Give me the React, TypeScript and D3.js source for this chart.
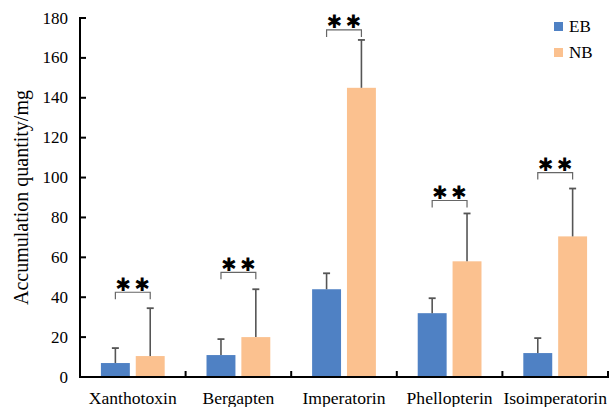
import React from "react";
import * as d3 from "d3";

const categories = ["Xanthotoxin", "Bergapten", "Imperatorin", "Phellopterin", "Isoimperatorin"];
const series = ["EB", "NB"];
const ebValues = [7, 11, 44, 32, 12];
const ebErrors = [7.5, 8, 8, 7.5, 7.5];
const nbValues = [10.5, 20, 145, 58, 70.5];
const nbErrors = [24, 24, 24, 24, 24];
const bracketLevels = [42.5, 52.5, 174, 88.5, 102.5];
const yTicks = [0, 20, 40, 60, 80, 100, 120, 140, 160, 180];

const colors: Record<string, string> = { EB: "#4f81c4", NB: "#fbc18f" };

const W = 609;
const H = 407;
const margin = { top: 18, right: 1, bottom: 30, left: 80 };
const serif = "Liberation Serif, DejaVu Serif, serif";

export default function App() {
  const x = d3
    .scaleBand<string>()
    .domain(categories)
    .range([margin.left, W - margin.right])
    .padding(0);
  const inner = d3
    .scaleBand<string>()
    .domain(series)
    .range([0, x.bandwidth()])
    .paddingInner(0.17)
    .paddingOuter(0.6);
  const y = d3.scaleLinear().domain([0, 180]).range([H - margin.bottom, margin.top]);

  const rows = categories.map((c, i) => ({
    c,
    bars: [
      { s: "EB", v: ebValues[i], e: ebErrors[i] },
      { s: "NB", v: nbValues[i], e: nbErrors[i] },
    ],
    bracket: bracketLevels[i],
  }));

  const y0 = y(0);
  const bw = inner.bandwidth();
  const tickTxt = { fontFamily: serif, fontSize: "17px" };
  const catTxt = { fontFamily: serif, fontSize: "17.6px" };

  return (
    <svg width={W} height={H} style={{ position: "absolute", left: 0, top: 0 }}>
      <rect width={W} height={H} fill="#fff" />
      {rows.map((r) => (
        <g key={r.c}>
          {r.bars.map((b) => {
            const bx = (x(r.c) as number) + (inner(b.s) as number);
            const cx = bx + bw / 2;
            return (
              <g key={b.s}>
                <rect x={bx} y={y(b.v)} width={bw} height={y0 - y(b.v)} fill={colors[b.s]} />
                <line x1={cx} x2={cx} y1={y(b.v)} y2={y(b.v + b.e)} stroke="#555" strokeWidth={1.6} />
                <line x1={cx - 3.5} x2={cx + 3.5} y1={y(b.v + b.e)} y2={y(b.v + b.e)} stroke="#555" strokeWidth={1.8} />
              </g>
            );
          })}
          {(() => {
            const xa = (x(r.c) as number) + (inner("EB") as number) + bw / 2;
            const xb = (x(r.c) as number) + (inner("NB") as number) + bw / 2;
            const by = y(r.bracket);
            const mid = (xa + xb) / 2;
            return (
              <g>
                <path
                  d={`M${xa},${by + 7}V${by}H${xb}V${by + 7}`}
                  fill="none"
                  stroke="#666"
                  strokeWidth={1.2}
                />
                {[-9.5, 9.5].map((dx) => (
                  <text
                    key={dx}
                    x={mid + dx}
                    y={by - 8}
                    textAnchor="middle"
                    dominantBaseline="central"
                    style={{ fontFamily: "DejaVu Sans, sans-serif", fontSize: "18.5px" }}
                    fill="#000"
                  >
                    ✱
                  </text>
                ))}
              </g>
            );
          })()}
        </g>
      ))}

      {/* axes */}
      <line x1={margin.left} x2={margin.left} y1={y(180) - 1} y2={y0 + 1} stroke="#000" strokeWidth={2} />
      <line x1={margin.left - 1} x2={W} y1={y0} y2={y0} stroke="#000" strokeWidth={2} />
      {yTicks.map((t) => (
        <g key={t}>
          <line x1={margin.left} x2={margin.left + 6} y1={y(t)} y2={y(t)} stroke="#000" strokeWidth={2} />
          <text x={margin.left - 12} y={y(t)} textAnchor="end" dominantBaseline="central" style={tickTxt} fill="#000">
            {t}
          </text>
        </g>
      ))}
      {categories.slice(1).map((c) => (
        <line key={c} x1={x(c)} x2={x(c)} y1={y0} y2={y0 - 6} stroke="#000" strokeWidth={2} />
      ))}
      <line x1={W - 1} x2={W - 1} y1={y0} y2={y0 - 6} stroke="#000" strokeWidth={2} />
      {categories.map((c) => (
        <text
          key={c}
          x={(x(c) as number) + x.bandwidth() / 2}
          y={y0 + 21}
          textAnchor="middle"
          dominantBaseline="central"
          style={catTxt}
          fill="#000"
        >
          {c}
        </text>
      ))}
      <text
        transform={`translate(21,${(y(180) + y0) / 2}) rotate(-90)`}
        textAnchor="middle"
        dominantBaseline="central"
        style={{ fontFamily: serif, fontSize: "20px" }}
        fill="#000"
      >
        Accumulation quantity/mg
      </text>

      {/* legend */}
      {series.map((s, i) => (
        <g key={s} transform={`translate(554,${22 + i * 26})`}>
          <rect width={9} height={9} fill={colors[s]} />
          <text x={15} y={4.5} dominantBaseline="central" style={tickTxt} fill="#000">
            {s}
          </text>
        </g>
      ))}
    </svg>
  );
}
